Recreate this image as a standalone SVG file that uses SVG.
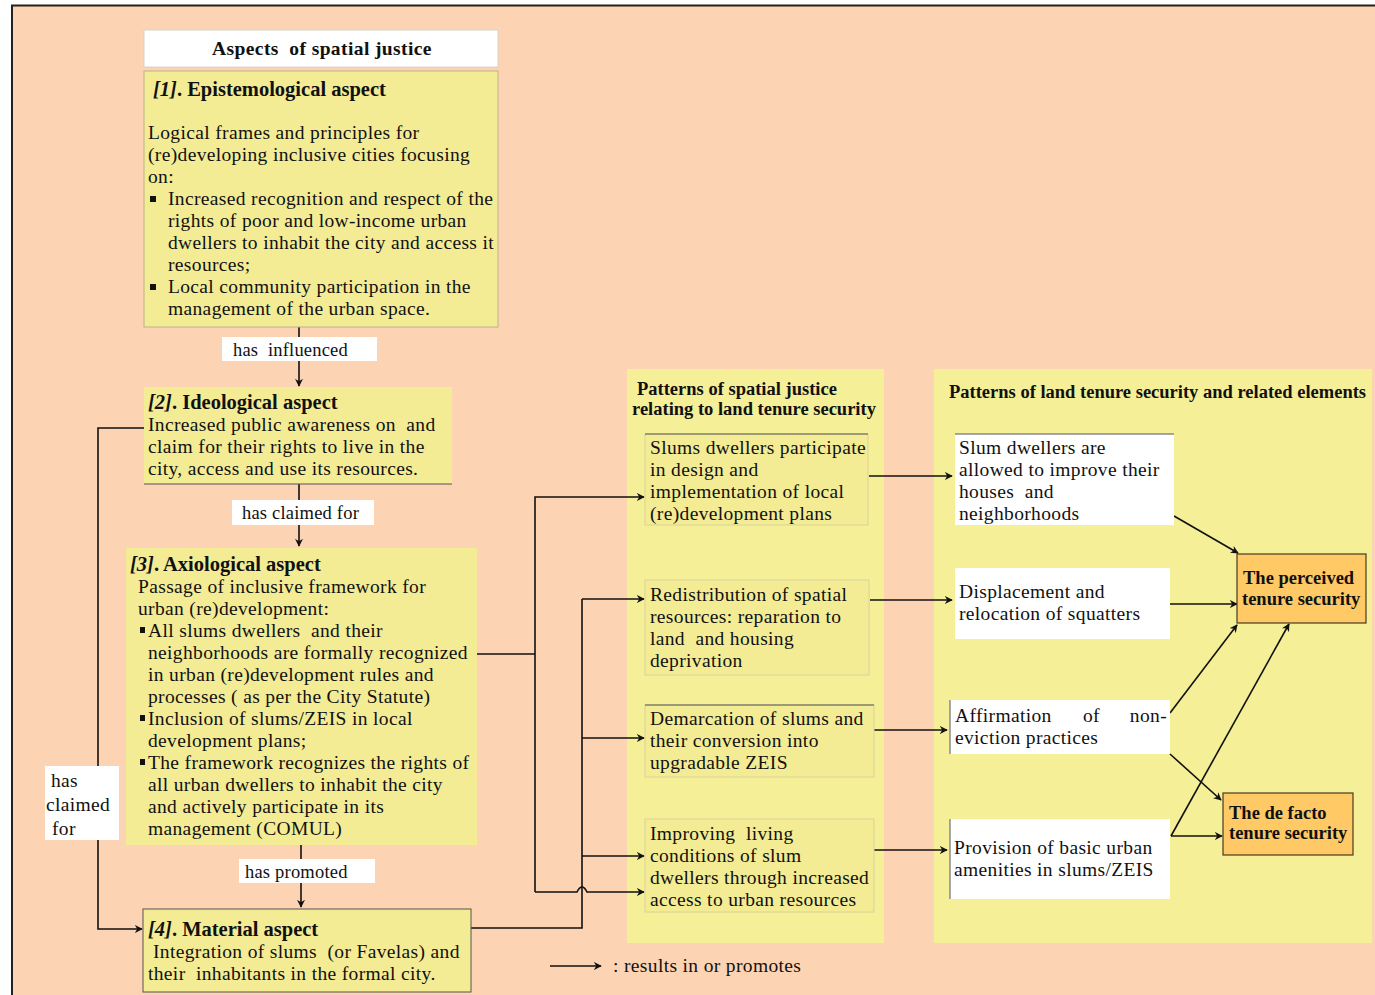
<svg xmlns="http://www.w3.org/2000/svg" width="1375" height="995" viewBox="0 0 1375 995">
  <defs>
    <marker id="arr" viewBox="0 0 10 10" refX="9" refY="5" markerWidth="8" markerHeight="8" markerUnits="userSpaceOnUse" orient="auto">
      <path d="M0,0 L10,5 L0,10 L3,5 Z" fill="#111"/>
    </marker>
  </defs>
  <style>
    text { font-family: "Liberation Serif", "Times New Roman", serif; fill: #111; white-space: pre; }
    .t { font-size: 19.5px; letter-spacing: 0.35px; }
    .l { font-size: 18.5px; letter-spacing: 0.2px; }
    .h { font-size: 20.5px; font-weight: bold; }
    .hs { font-size: 18.5px; font-weight: bold; }
    .ob { font-size: 18.5px; font-weight: bold; }
    .box { fill: #F3EC95; }
    .sbox { fill: #F3EC94; stroke: #D8D29A; stroke-width: 1; }
    .panel { fill: #F5EF98; }
    .wbox { fill: #FFFFFF; }
    .obox { fill: #FFC965; stroke: #4A3A20; stroke-width: 1.2; }
    .lbl { fill: #FFFFFF; }
    .ln { fill: none; stroke: #111; stroke-width: 1.6; }
    .lna { fill: none; stroke: #111; stroke-width: 1.6; marker-end: url(#arr); }
  </style>

  <!-- canvas and frame -->
  <rect x="0" y="0" width="1375" height="995" fill="#FFFFFF"/>
  <rect x="12" y="5" width="1363" height="990" fill="#FCD3B3"/>
  <path d="M12,995 V5.5 H1375" fill="none" stroke="#222" stroke-width="2"/>

  <!-- background panels -->
  <rect class="panel" x="627" y="369" width="257" height="574"/>
  <rect class="panel" x="934" y="369" width="438" height="574"/>

  <!-- connectors -->
  <g id="connectors">
    <path class="lna" d="M299,327 V386"/>
    <path class="lna" d="M299,484 V546"/>
    <path class="lna" d="M301,845 V907"/>
    <path class="lna" d="M144,428 H98 V929 H142"/>
    <path class="ln" d="M477,654 H535"/>
    <path class="lna" d="M535,892 V497 H644"/>
    <path class="lna" d="M535,892 H577 Q582,882 587,892 H644"/>
    <path class="ln" d="M471,928 H582 V599"/>
    <path class="lna" d="M582,599 H644"/>
    <path class="lna" d="M582,738 H644"/>
    <path class="lna" d="M582,856 H644"/>
    <path class="lna" d="M869,476 H952"/>
    <path class="lna" d="M870,600 H952"/>
    <path class="lna" d="M874,730 H947"/>
    <path class="lna" d="M874,850 H947"/>
    <path class="lna" d="M1174,516 L1238,553"/>
    <path class="lna" d="M1170,604 H1237"/>
    <path class="lna" d="M1170,713 L1237,625"/>
    <path class="lna" d="M1171,836 L1289,624"/>
    <path class="lna" d="M1170,754 L1221,800"/>
    <path class="lna" d="M1171,836 H1222"/>
    <path class="lna" d="M550,966 H601"/>
  </g>

  <!-- edge labels -->
  <g id="label-influenced">
    <rect class="lbl" x="222" y="337" width="155" height="24"/>
    <text class="l" x="233" y="356">has  influenced</text>
  </g>
  <g id="label-claimed">
    <rect class="lbl" x="232" y="500" width="142" height="25"/>
    <text class="l" x="242" y="519">has claimed for</text>
  </g>
  <g id="label-promoted">
    <rect class="lbl" x="239" y="859" width="136" height="24"/>
    <text class="l" x="245" y="878">has promoted</text>
  </g>
  <g id="label-claimed-left">
    <rect class="lbl" x="45" y="766" width="74" height="74"/>
    <text class="t" x="51" y="787">has</text>
    <text class="t" x="46" y="811">claimed</text>
    <text class="t" x="52" y="835">for</text>
  </g>

  <!-- left column: aspects -->
  <g id="header">
    <rect x="144" y="30" width="354" height="37" fill="#FFFFFF" stroke="#D9D2C8" stroke-width="1"/>
    <text class="hs" x="322" y="55" text-anchor="middle" style="font-size:19.5px; letter-spacing:0.4px">Aspects  of spatial justice</text>
  </g>

  <g id="aspect-1">
    <rect class="box" x="144" y="71" width="354" height="256" stroke="#B9B38A" stroke-width="1"/>
    <text class="h" x="153" y="96"><tspan font-style="italic">[1]</tspan>. Epistemological aspect</text>
    <text class="t" x="148" y="139">Logical frames and principles for</text>
    <text class="t" x="148" y="161">(re)developing inclusive cities focusing</text>
    <text class="t" x="148" y="183">on:</text>
    <rect x="150" y="196" width="6" height="6" fill="#111"/>
    <text class="t" x="168" y="205">Increased recognition and respect of the</text>
    <text class="t" x="168" y="227">rights of poor and low-income urban</text>
    <text class="t" x="168" y="249">dwellers to inhabit the city and access it</text>
    <text class="t" x="168" y="271">resources;</text>
    <rect x="150" y="284" width="6" height="6" fill="#111"/>
    <text class="t" x="168" y="293">Local community participation in the</text>
    <text class="t" x="168" y="315">management of the urban space.</text>
  </g>

  <g id="aspect-2">
    <rect class="box" x="144" y="387" width="308" height="97"/>
    <path d="M144,484 H452" stroke="#555" stroke-width="1"/>
    <text class="h" x="148" y="409"><tspan font-style="italic">[2]</tspan>. Ideological aspect</text>
    <text class="t" x="148" y="431">Increased public awareness on  and</text>
    <text class="t" x="148" y="453">claim for their rights to live in the</text>
    <text class="t" x="148" y="475">city, access and use its resources.</text>
  </g>

  <g id="aspect-3">
    <rect class="box" x="126" y="548" width="351" height="297"/>
    <text class="h" x="130" y="571"><tspan font-style="italic">[3]</tspan>. Axiological aspect</text>
    <text class="t" x="138" y="593">Passage of inclusive framework for</text>
    <text class="t" x="138" y="615">urban (re)development:</text>
    <rect x="140" y="627" width="5" height="6" fill="#111"/>
    <text class="t" x="148" y="637">All slums dwellers  and their</text>
    <text class="t" x="148" y="659">neighborhoods are formally recognized</text>
    <text class="t" x="148" y="681">in urban (re)development rules and</text>
    <text class="t" x="148" y="703">processes ( as per the City Statute)</text>
    <rect x="140" y="715" width="5" height="6" fill="#111"/>
    <text class="t" x="148" y="725">Inclusion of slums/ZEIS in local</text>
    <text class="t" x="148" y="747">development plans;</text>
    <rect x="140" y="759" width="5" height="6" fill="#111"/>
    <text class="t" x="148" y="769">The framework recognizes the rights of</text>
    <text class="t" x="148" y="791">all urban dwellers to inhabit the city</text>
    <text class="t" x="148" y="813">and actively participate in its</text>
    <text class="t" x="148" y="835">management (COMUL)</text>
  </g>

  <g id="aspect-4">
    <rect class="box" x="143" y="909" width="328" height="83" stroke="#555" stroke-width="1"/>
    <text class="h" x="148" y="936"><tspan font-style="italic">[4]</tspan>. Material aspect</text>
    <text class="t" x="153" y="958">Integration of slums  (or Favelas) and</text>
    <text class="t" x="148" y="980">their  inhabitants in the formal city.</text>
  </g>

  <!-- middle column: patterns of spatial justice -->
  <g id="spatial-justice-title">
    <text class="hs" x="637" y="395">Patterns of spatial justice</text>
    <text class="hs" x="632" y="415">relating to land tenure security</text>
  </g>

  <g id="sj-participation">
    <rect class="sbox" x="645" y="434" width="223" height="91"/>
    <path d="M645,434 H868" stroke="#555" stroke-width="1"/>
    <text class="t" x="650" y="454">Slums dwellers participate</text>
    <text class="t" x="650" y="476">in design and</text>
    <text class="t" x="650" y="498">implementation of local</text>
    <text class="t" x="650" y="520">(re)development plans</text>
  </g>

  <g id="sj-redistribution">
    <rect class="sbox" x="645" y="580" width="224" height="95"/>
    <text class="t" x="650" y="601">Redistribution of spatial</text>
    <text class="t" x="650" y="623">resources: reparation to</text>
    <text class="t" x="650" y="645">land  and housing</text>
    <text class="t" x="650" y="667">deprivation</text>
  </g>

  <g id="sj-demarcation">
    <rect class="sbox" x="645" y="705" width="229" height="72"/>
    <path d="M645,705 H874" stroke="#555" stroke-width="1"/>
    <text class="t" x="650" y="725">Demarcation of slums and</text>
    <text class="t" x="650" y="747">their conversion into</text>
    <text class="t" x="650" y="769">upgradable ZEIS</text>
  </g>

  <g id="sj-living-conditions">
    <rect class="sbox" x="645" y="819" width="229" height="93"/>
    <text class="t" x="650" y="840">Improving  living</text>
    <text class="t" x="650" y="862">conditions of slum</text>
    <text class="t" x="650" y="884">dwellers through increased</text>
    <text class="t" x="650" y="906">access to urban resources</text>
  </g>

  <!-- right column: land tenure security -->
  <g id="tenure-title">
    <text class="hs" x="949" y="398">Patterns of land tenure security and related elements</text>
  </g>

  <g id="lt-improve">
    <rect class="wbox" x="955" y="434" width="219" height="91"/>
    <path d="M955,434 H1174" stroke="#555" stroke-width="1"/>
    <text class="t" x="959" y="454">Slum dwellers are</text>
    <text class="t" x="959" y="476">allowed to improve their</text>
    <text class="t" x="959" y="498">houses  and</text>
    <text class="t" x="959" y="520">neighborhoods</text>
  </g>

  <g id="lt-displacement">
    <rect class="wbox" x="955" y="568" width="215" height="71"/>
    <text class="t" x="959" y="598">Displacement and</text>
    <text class="t" x="959" y="620">relocation of squatters</text>
  </g>

  <g id="lt-non-eviction">
    <rect class="wbox" x="950" y="700" width="220" height="54"/>
    <path d="M950,700 V754" stroke="#555" stroke-width="1"/>
    <text class="t" x="955" y="722">Affirmation</text>
    <text class="t" x="1083" y="722">of</text>
    <text class="t" x="1167" y="722" text-anchor="end">non-</text>
    <text class="t" x="955" y="744">eviction practices</text>
  </g>

  <g id="lt-amenities">
    <rect class="wbox" x="950" y="819" width="220" height="80"/>
    <path d="M950,819 V899" stroke="#555" stroke-width="1"/>
    <text class="t" x="954" y="854">Provision of basic urban</text>
    <text class="t" x="954" y="876">amenities in slums/ZEIS</text>
  </g>

  <g id="perceived-security">
    <rect class="obox" x="1237" y="554" width="129" height="69"/>
    <text class="ob" x="1243" y="584">The perceived</text>
    <text class="ob" x="1242" y="605">tenure security</text>
  </g>

  <g id="de-facto-security">
    <rect class="obox" x="1223" y="793" width="130" height="62"/>
    <text class="ob" x="1229" y="819">The de facto</text>
    <text class="ob" x="1229" y="839">tenure security</text>
  </g>

  <!-- legend -->
  <g id="legend">
    <text class="t" x="613" y="972">: results in or promotes</text>
  </g>
</svg>
